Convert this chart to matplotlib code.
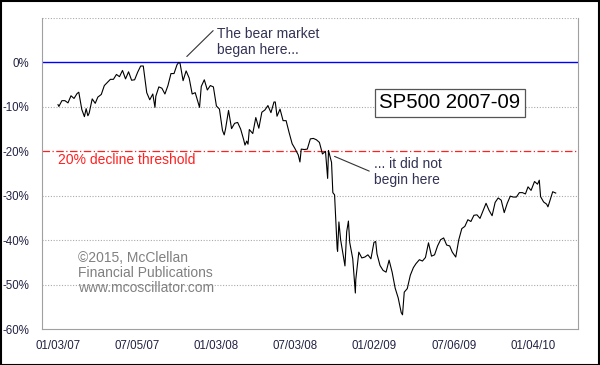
import pandas as pd
import matplotlib
matplotlib.use("Agg")
import matplotlib.pyplot as plt
import matplotlib.dates as mdates
from matplotlib.patches import Rectangle

plt.rcParams['font.family'] = ['Liberation Sans', 'DejaVu Sans']

# SP500 % below the Oct 2007 high
dates = [
    "2007-01-03", "2007-01-05", "2007-01-12", "2007-01-19", "2007-01-26", "2007-02-02", "2007-02-09",
    "2007-02-16", "2007-02-20", "2007-02-27", "2007-03-02", "2007-03-05", "2007-03-09", "2007-03-13",
    "2007-03-16", "2007-03-23", "2007-03-30", "2007-04-05", "2007-04-13", "2007-04-20", "2007-04-27",
    "2007-05-04", "2007-05-11", "2007-05-18", "2007-05-25", "2007-06-01", "2007-06-08", "2007-06-15",
    "2007-06-22", "2007-06-29", "2007-07-06", "2007-07-13", "2007-07-19", "2007-07-27", "2007-08-03",
    "2007-08-10", "2007-08-15", "2007-08-17", "2007-08-24", "2007-08-31", "2007-09-07", "2007-09-14",
    "2007-09-21", "2007-09-28", "2007-10-05", "2007-10-09", "2007-10-12", "2007-10-19", "2007-10-26",
    "2007-11-02", "2007-11-09", "2007-11-16", "2007-11-26", "2007-11-30", "2007-12-07", "2007-12-14",
    "2007-12-21", "2007-12-28",
    "2008-01-04", "2008-01-11", "2008-01-18", "2008-01-22", "2008-01-25", "2008-02-01", "2008-02-08",
    "2008-02-15", "2008-02-22", "2008-02-29", "2008-03-07", "2008-03-10", "2008-03-14", "2008-03-17",
    "2008-03-20", "2008-03-28", "2008-04-04", "2008-04-11", "2008-04-18", "2008-04-25", "2008-05-02",
    "2008-05-09", "2008-05-16", "2008-05-19", "2008-05-23", "2008-05-30", "2008-06-06", "2008-06-13",
    "2008-06-20", "2008-06-27", "2008-07-03", "2008-07-11", "2008-07-15", "2008-07-18", "2008-07-25",
    "2008-08-01", "2008-08-08", "2008-08-15", "2008-08-22", "2008-08-29", "2008-09-05", "2008-09-12",
    "2008-09-17", "2008-09-19", "2008-09-26", "2008-09-29", "2008-10-03", "2008-10-09", "2008-10-10",
    "2008-10-13", "2008-10-17", "2008-10-24", "2008-10-27", "2008-10-31", "2008-11-04", "2008-11-07",
    "2008-11-14", "2008-11-20", "2008-11-21", "2008-11-28", "2008-12-05", "2008-12-12", "2008-12-19",
    "2008-12-26",
    "2009-01-02", "2009-01-06", "2009-01-09", "2009-01-16", "2009-01-23", "2009-01-30", "2009-02-06",
    "2009-02-13", "2009-02-20", "2009-02-27", "2009-03-06", "2009-03-09", "2009-03-13", "2009-03-20",
    "2009-03-27", "2009-04-03", "2009-04-09", "2009-04-17", "2009-04-24", "2009-05-01", "2009-05-08",
    "2009-05-15", "2009-05-22", "2009-05-29", "2009-06-05", "2009-06-12", "2009-06-19", "2009-06-26",
    "2009-07-02", "2009-07-10", "2009-07-17", "2009-07-24", "2009-07-31", "2009-08-07", "2009-08-14",
    "2009-08-21", "2009-08-28", "2009-09-04", "2009-09-11", "2009-09-18", "2009-09-25", "2009-10-02",
    "2009-10-09", "2009-10-16", "2009-10-23", "2009-10-30", "2009-11-06", "2009-11-13", "2009-11-20",
    "2009-11-27", "2009-12-04", "2009-12-11", "2009-12-18", "2009-12-24", "2009-12-31",
    "2010-01-08", "2010-01-15", "2010-01-19", "2010-01-22", "2010-01-29", "2010-02-05", "2010-02-08",
    "2010-02-12", "2010-02-19", "2010-02-26",
]
pct = [
    -9.5, -9.9, -8.6, -8.6, -9.1, -7.5, -8.1,
    -7.0, -6.7, -10.6, -11.4, -12.2, -10.4, -12.0,
    -11.4, -8.2, -9.2, -7.8, -7.2, -5.2, -4.5,
    -3.8, -3.8, -2.7, -3.2, -1.8, -3.7, -2.1,
    -4.0, -3.9, -2.2, -0.8, -0.8, -6.8, -8.4,
    -7.1, -10.1, -7.6, -5.5, -5.8, -7.1, -5.2,
    -2.5, -2.5, -0.5, 0.0, -0.2, -4.1, -1.9,
    -3.5, -7.1, -6.8, -10.1, -5.4, -3.9, -6.2,
    -5.2, -5.5,
    -9.8, -10.5, -15.3, -16.3, -15.0, -10.8, -14.9,
    -13.7, -13.5, -15.0, -17.4, -18.6, -17.7, -18.4,
    -15.1, -16.0, -12.4, -14.8, -11.2, -10.7, -9.7,
    -11.3, -8.9, -8.9, -12.1, -10.5, -13.1, -13.1,
    -15.8, -18.3, -19.3, -20.8, -22.4, -19.5, -19.6,
    -19.5, -17.2, -17.1, -17.4, -18.0, -20.6, -20.0,
    -26.1, -19.8, -22.5, -29.3, -29.8, -41.9, -42.5,
    -35.9, -39.9, -44.0, -45.8, -38.1, -35.7, -40.5,
    -44.2, -51.9, -48.9, -42.7, -44.0, -43.8, -43.3,
    -44.2,
    -40.5, -40.3, -43.1, -45.7, -46.8, -47.2, -44.5,
    -47.2, -50.8, -53.0, -56.3, -56.8, -51.7, -50.9,
    -47.9, -46.2, -45.3, -44.4, -44.7, -43.9, -40.6,
    -43.6, -43.3, -41.3, -39.9, -39.5, -41.1, -41.3,
    -42.7, -43.8, -39.9, -37.4, -36.9, -35.4, -35.8,
    -34.4, -34.3, -35.1, -33.4, -31.7, -33.3, -34.5,
    -31.5, -30.5, -31.0, -33.8, -31.7, -30.1, -30.3,
    -30.3, -29.3, -29.3, -29.6, -28.0, -28.8,
    -26.8, -27.4, -26.5, -30.2, -31.4, -31.9, -32.5,
    -31.3, -29.1, -29.4,
]

tick_dates = ["2007-01-03", "2007-07-05", "2008-01-03", "2008-07-03",
              "2009-01-02", "2009-07-06", "2010-01-04"]
y_ticks = [0, -10, -20, -30, -40, -50, -60]

x = pd.to_datetime(dates)
tx = pd.to_datetime(tick_dates)

fig = plt.figure(figsize=(6, 3.65), dpi=100)
ax = fig.add_axes([0.07, 0.0986, 0.893, 0.852])

# dotted grid
for g in [10, -10, -30, -40, -50]:
    ax.axhline(g, color='#aaaaaa', lw=0.8, ls=(0, (1, 1.5)), zorder=1)
ax.axhline(0, color='#0000ff', lw=1.0, zorder=2)
ax.axhline(-20, color='#ff2020', lw=0.9, ls=(0, (6, 2, 1, 2)), zorder=2)

ax.plot(x, pct, color='black', lw=0.8, zorder=3)

ax.set_ylim(-60, 10)
ax.set_xlim(pd.Timestamp("2006-11-27"), pd.Timestamp("2010-04-18"))
ax.set_yticks(y_ticks)
ax.set_yticklabels([f"{v}%" for v in y_ticks])
ax.set_xticks(tx)
ax.xaxis.set_major_formatter(mdates.DateFormatter("%m/%d/%y"))
ax.tick_params(axis='y', length=0, pad=9, labelsize=8.3, labelcolor='#222244')
ax.tick_params(axis='x', length=0, pad=8, labelsize=8.3, labelcolor='#222244')

for s in ['left', 'bottom', 'right']:
    ax.spines[s].set_color('#a0a0a0')
ax.spines['top'].set_visible(False)

txt = '#333355'
# bear market annotation
ax.annotate('', xy=(pd.Timestamp("2007-10-23"), 0.9), xytext=(pd.Timestamp("2008-01-01"), 7.6),
            arrowprops=dict(arrowstyle='-', color='#333333', lw=0.8))
ax.text(pd.Timestamp("2008-01-05"), 4.6, "The bear market\nbegan here...", fontsize=10,
        color=txt, va='center', ha='left', linespacing=1.2)

ax.annotate('', xy=(pd.Timestamp("2008-09-27"), -20.9), xytext=(pd.Timestamp("2008-12-28"), -24.7),
            arrowprops=dict(arrowstyle='-', color='#333333', lw=0.8))
ax.text(pd.Timestamp("2009-01-02"), -24.6, "... it did not\nbegin here", fontsize=10,
        color=txt, va='center', ha='left', linespacing=1.2)

ax.text(pd.Timestamp("2007-01-04"), -22.0, "20% decline threshold", fontsize=10,
        color='#ff2020', va='center', ha='left')

ax.text(0.761, 0.727, "SP500 2007-09", transform=ax.transAxes, fontsize=14.7,
        color='black', ha='center', va='center',
        bbox=dict(boxstyle='square,pad=0.22', fc='white', ec='#555555', lw=0.9))

ax.text(0.067, 0.18, "©2015, McClellan\nFinancial Publications\nwww.mcoscillator.com",
        transform=ax.transAxes, fontsize=10, color='#808080', ha='left', va='center',
        linespacing=1.1)

# outer frame
fig.patches.append(Rectangle((0.001, 0.001), 0.997, 0.997, transform=fig.transFigure,
                             fill=False, ec='black', lw=1.5))

fig.savefig("out.png", dpi=100)
